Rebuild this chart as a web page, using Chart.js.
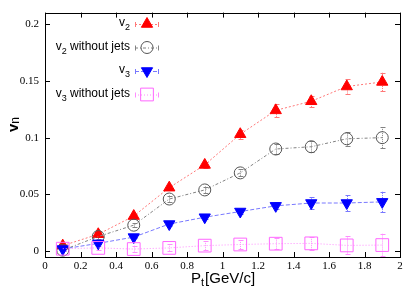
<!DOCTYPE html>
<html>
<head>
<meta charset="utf-8">
<script src="https://cdn.jsdelivr.net/npm/chart.js@4.4.1/dist/chart.umd.min.js"></script>
<style>
  html, body { margin: 0; padding: 0; background: #fff; }
  #wrap { width: 415px; height: 291px; }
</style>
</head>
<body>
<div id="wrap"><canvas id="c" width="415" height="291"></canvas></div>
<script>
// data
const ptValues = [0.1, 0.3, 0.5, 0.7, 0.9, 1.1, 1.3, 1.5, 1.7, 1.9];
const v2 = [0.005, 0.015, 0.031, 0.056, 0.076, 0.103, 0.124, 0.132, 0.145, 0.149];
const v2Err = [0.001, 0.002, 0.002, 0.002, 0.003, 0.004, 0.006, 0.005, 0.007, 0.008];
const v2NoJets = [0.001, 0.013, 0.023, 0.046, 0.054, 0.069, 0.090, 0.092, 0.099, 0.100];
const v2NoJetsErr = [0.001, 0.002, 0.002, 0.003, 0.003, 0.003, 0.004, 0.005, 0.006, 0.009];
const v3 = [0.002, 0.007, 0.0125, 0.024, 0.030, 0.035, 0.040, 0.0425, 0.0425, 0.0435];
const v3Err = [0.001, 0.001, 0.001, 0.002, 0.002, 0.002, 0.003, 0.005, 0.007, 0.009];
const v3NoJets = [0.0023, 0.003, 0.002, 0.003, 0.005, 0.006, 0.0067, 0.007, 0.0052, 0.0055];
const v3NoJetsErr = [0.002, 0.002, 0.003, 0.003, 0.004, 0.004, 0.005, 0.006, 0.008, 0.01];
const xTicks = [0, 0.2, 0.4, 0.6, 0.8, 1, 1.2, 1.4, 1.6, 1.8, 2];
const xTickLabels = ['0', '0.2', '0.4', '0.6', '0.8', '1', '1.2', '1.4', '1.6', '1.8', '2'];
const yTicks = [0, 0.05, 0.1, 0.15, 0.2];
const yTickLabels = ['0', '0.05', '0.1', '0.15', '0.2'];
const legendNames = [['v', '2', ''], ['v', '2', ' without jets'], ['v', '3', ''], ['v', '3', ' without jets']];

function pts(ys) { return ys.map((y, i) => ({x: ptValues[i], y: y})); }

const series = [
  {data: v2, err: v2Err, line: 'rgba(255,120,120,1)', dash: [2, 2], style: 'triangle', rot: 0, r: 6.5, fill: '#ff0000', stroke: '#ff0000'},
  {data: v2NoJets, err: v2NoJetsErr, line: 'rgba(130,130,130,1)', dash: [3, 2, 1, 2], style: 'circle', rot: 0, r: 6, fill: 'rgba(0,0,0,0)', stroke: '#555555'},
  {data: v3, err: v3Err, line: 'rgba(120,120,255,1)', dash: [4, 2], style: 'triangle', rot: 180, r: 6.5, fill: '#0000ff', stroke: '#0000ff'},
  {data: v3NoJets, err: v3NoJetsErr, line: 'rgba(255,140,255,1)', dash: [1, 2], style: 'rect', rot: 0, r: 9, fill: 'rgba(0,0,0,0)', stroke: '#ff66ff'}
];

// error bars, frame, inward ticks, axis titles and legend
const decor = {
  id: 'decor',
  beforeDatasetsDraw(chart) {
    const ctx = chart.ctx, xs = chart.scales.x, ys = chart.scales.y;
    ctx.save();
    ctx.lineWidth = 1;
    series.forEach(s => {
      ctx.strokeStyle = s.line;
      ctx.setLineDash([1, 1]);
      s.data.forEach((v, i) => {
        const px = Math.round(xs.getPixelForValue(ptValues[i])) + 0.5;
        const y1 = ys.getPixelForValue(v - s.err[i]), y2 = ys.getPixelForValue(v + s.err[i]);
        ctx.beginPath();
        ctx.moveTo(px, y1); ctx.lineTo(px, y2);
        ctx.stroke();
        ctx.setLineDash([]);
        ctx.beginPath();
        ctx.moveTo(px - 2, Math.round(y1) + 0.5); ctx.lineTo(px + 3, Math.round(y1) + 0.5);
        ctx.moveTo(px - 2, Math.round(y2) + 0.5); ctx.lineTo(px + 3, Math.round(y2) + 0.5);
        ctx.stroke();
        ctx.setLineDash([1, 1]);
      });
    });
    ctx.restore();
  },
  afterDraw(chart) {
    const ctx = chart.ctx, a = chart.chartArea, xs = chart.scales.x, ys = chart.scales.y;
    ctx.save();
    ctx.strokeStyle = '#000';
    ctx.lineWidth = 1;
    ctx.strokeRect(Math.round(a.left) + 0.5, Math.round(a.top) + 0.5, Math.round(a.right - a.left), Math.round(a.bottom - a.top));
    ctx.beginPath();
    xTicks.forEach(t => {
      const px = Math.round(xs.getPixelForValue(t)) + 0.5;
      ctx.moveTo(px, a.bottom); ctx.lineTo(px, a.bottom - 5);
      ctx.moveTo(px, a.top); ctx.lineTo(px, a.top + 5);
    });
    yTicks.forEach(t => {
      const py = Math.round(ys.getPixelForValue(t)) + 0.5;
      ctx.moveTo(a.left, py); ctx.lineTo(a.left + 5, py);
      ctx.moveTo(a.right, py); ctx.lineTo(a.right - 5, py);
    });
    ctx.stroke();

    // axis titles
    ctx.fillStyle = '#000';
    ctx.textBaseline = 'alphabetic';
    ctx.font = '15px "Liberation Sans", Arial, sans-serif';
    ctx.textAlign = 'left';
    let x0 = 191, yb = 283;
    ctx.fillText('P', x0, yb);
    let w = ctx.measureText('P').width;
    ctx.font = '11px "Liberation Sans", Arial, sans-serif';
    ctx.fillText('t', x0 + w, yb + 3);
    let w2 = ctx.measureText('t').width;
    ctx.font = '15px "Liberation Sans", Arial, sans-serif';
    ctx.fillText('[GeV/c]', x0 + w + w2 + 1, yb);

    ctx.save();
    ctx.translate(18, 132);
    ctx.rotate(-Math.PI / 2);
    ctx.font = 'bold 15px "Liberation Sans", Arial, sans-serif';
    ctx.fillText('v', 0, 0);
    w = ctx.measureText('v').width;
    ctx.font = '12px "Liberation Sans", Arial, sans-serif';
    ctx.fillText('n', w, 1);
    ctx.restore();

    // legend
    const rows = [24, 47.5, 71, 94.5];
    series.forEach((s, i) => {
      const y = rows[i], mx = 147;
      ctx.strokeStyle = s.line;
      ctx.lineWidth = 1;
      ctx.setLineDash(s.dash);
      ctx.beginPath();
      ctx.moveTo(135, y + 0.5); ctx.lineTo(159, y + 0.5);
      ctx.stroke();
      ctx.setLineDash([]);
      ctx.beginPath();
      ctx.moveTo(135.5, y - 2); ctx.lineTo(135.5, y + 3);
      ctx.moveTo(158.5, y - 2); ctx.lineTo(158.5, y + 3);
      ctx.stroke();
      ctx.fillStyle = s.fill;
      ctx.strokeStyle = s.stroke;
      Chart.helpers.drawPoint(ctx, {pointStyle: s.style, rotation: s.rot, radius: s.r, borderWidth: 1}, mx, y);
      // label, right aligned with subscript
      const [base, sub, rest] = legendNames[i];
      ctx.fillStyle = '#000';
      ctx.font = '12px "Liberation Sans", Arial, sans-serif';
      const wb = ctx.measureText(base).width, wr = ctx.measureText(rest).width;
      ctx.font = '9px "Liberation Sans", Arial, sans-serif';
      const ws = ctx.measureText(sub).width;
      let lx = 130 - wb - ws - wr;
      ctx.textAlign = 'left';
      ctx.font = '12px "Liberation Sans", Arial, sans-serif';
      ctx.fillText(base, lx, y + 2);
      ctx.font = '9px "Liberation Sans", Arial, sans-serif';
      ctx.fillText(sub, lx + wb, y + 6);
      ctx.font = '12px "Liberation Sans", Arial, sans-serif';
      ctx.fillText(rest, lx + wb + ws, y + 2);
    });
    ctx.restore();
  }
};

new Chart(document.getElementById('c'), {
  type: 'scatter',
  data: {
    datasets: series.map((s, i) => ({
      label: legendNames[i].join(''),
      data: pts(s.data),
      showLine: true,
      borderColor: s.line,
      borderWidth: 1,
      borderDash: s.dash,
      pointStyle: s.style,
      rotation: s.rot,
      pointRadius: s.r,
      pointBackgroundColor: s.fill,
      pointBorderColor: s.stroke,
      pointBorderWidth: 1,
      order: 4 - i
    }))
  },
  options: {
    responsive: false,
    animation: false,
    events: [],
    layout: {padding: {left: 0, right: 15, top: 9, bottom: 0}},
    plugins: {legend: {display: false}, tooltip: {enabled: false}},
    scales: {
      x: {
        type: 'linear', min: 0, max: 2,
        afterFit(scale) { scale.height = 34; },
        afterBuildTicks(scale) { scale.ticks = xTicks.map(v => ({value: v})); },
        grid: {display: false, drawTicks: false},
        border: {display: false},
        ticks: {
          padding: 3,
          color: '#000',
          font: {family: '"Liberation Serif", "Times New Roman", serif', size: 11},
          callback: (v) => xTickLabels[xTicks.indexOf(v)] ?? ''
        }
      },
      y: {
        type: 'linear', min: -0.005, max: 0.21,
        afterFit(scale) { scale.width = 45; },
        afterBuildTicks(scale) { scale.ticks = yTicks.map(v => ({value: v})); },
        grid: {display: false, drawTicks: false},
        border: {display: false},
        ticks: {
          padding: 6,
          color: '#000',
          font: {family: '"Liberation Serif", "Times New Roman", serif', size: 11},
          callback: (v) => yTickLabels[yTicks.indexOf(v)] ?? ''
        }
      }
    }
  },
  plugins: [decor]
});
</script>
</body>
</html>
